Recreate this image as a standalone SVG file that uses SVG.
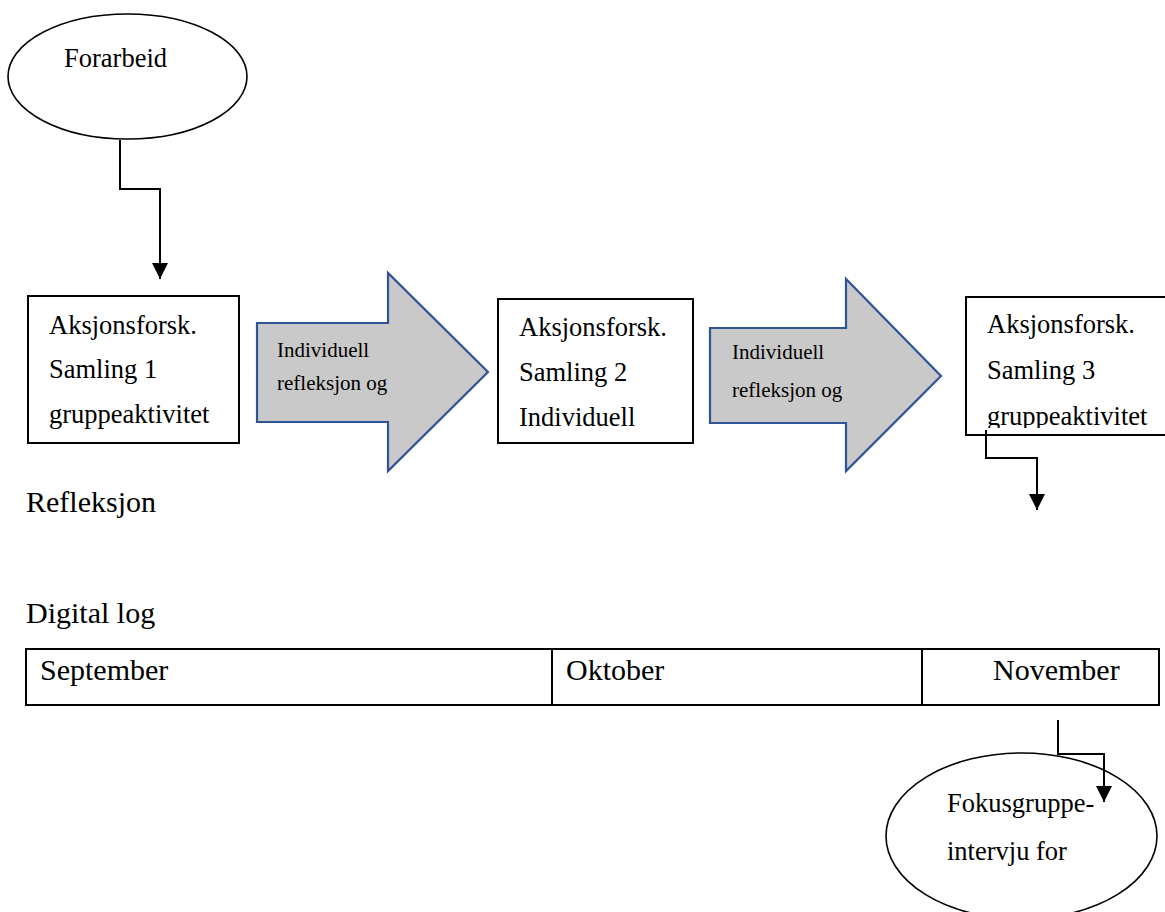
<svg xmlns="http://www.w3.org/2000/svg" width="1165" height="912" viewBox="0 0 1165 912">
<style>
  text { font-family: "Liberation Serif", "Times New Roman", serif; fill: #000; }
  .big { font-size: 30px; }
  .mid { font-size: 26.5px; }
  .small { font-size: 21px; }
  .box { fill: #fff; stroke: #000; stroke-width: 2; }
  .ell { fill: #fff; stroke: #000; stroke-width: 1.6; }
  .blk { fill: #c9c9c9; stroke: #2f5496; stroke-width: 2.2; stroke-linejoin: miter; }
  .conn { fill: none; stroke: #000; stroke-width: 2; }
</style>
<defs>
  <marker id="ah" markerUnits="userSpaceOnUse" markerWidth="16" markerHeight="16" viewBox="0 0 16 16" refX="16" refY="8" orient="auto">
    <path d="M0,0 L16,8 L0,16 Z" fill="#000"/>
  </marker>
  <clipPath id="clip3"><rect x="966" y="297" width="210" height="131"/></clipPath>
</defs>
<rect width="1165" height="912" fill="#fff"/>

<g id="forarbeid">
  <ellipse class="ell" cx="127.5" cy="76.5" rx="119.5" ry="62.5"/>
  <text class="mid" x="64" y="67">Forarbeid</text>
</g>

<g id="samling1">
  <rect class="box" x="28" y="296" width="211" height="147"/>
  <text class="mid" x="49" y="334">Aksjonsforsk.</text>
  <text class="mid" x="49" y="378">Samling 1</text>
  <text class="mid" x="49" y="423">gruppeaktivitet</text>
</g>

<g id="pil1">
  <polygon class="blk" points="257,323 388,323 388,273 488,372 388,471 388,422 257,422"/>
  <text class="small" x="277" y="357">Individuell</text>
  <text class="small" x="277" y="390">refleksjon og</text>
</g>

<g id="samling2">
  <rect class="box" x="498" y="299" width="195" height="144"/>
  <text class="mid" x="519" y="336">Aksjonsforsk.</text>
  <text class="mid" x="519" y="381">Samling 2</text>
  <text class="mid" x="519" y="426">Individuell</text>
</g>

<g id="pil2">
  <polygon class="blk" points="710,328 846,328 846,279 941,376 846,471 846,423 710,423"/>
  <text class="small" x="732" y="359">Individuell</text>
  <text class="small" x="732" y="397">refleksjon og</text>
</g>

<g id="samling3">
  <rect class="box" x="966" y="297" width="210" height="138"/>
  <g clip-path="url(#clip3)">
    <text class="mid" x="987" y="333">Aksjonsforsk.</text>
    <text class="mid" x="987" y="379">Samling 3</text>
    <text class="mid" x="987" y="425">gruppeaktivitet</text>
  </g>
</g>

<g id="refleksjon">
  <text class="big" x="26" y="512">Refleksjon</text>
</g>

<g id="digital-log">
  <text class="big" x="26" y="623">Digital log</text>
</g>

<g id="tidslinje">
  <rect class="box" x="26" y="649" width="1133" height="56"/>
  <line x1="552" y1="649" x2="552" y2="705" stroke="#000" stroke-width="2"/>
  <line x1="922" y1="649" x2="922" y2="705" stroke="#000" stroke-width="2"/>
  <text class="big" x="40" y="680">September</text>
  <text class="big" x="566" y="680">Oktober</text>
  <text class="big" x="993" y="680">November</text>
</g>

<g id="fokusgruppe">
  <ellipse class="ell" cx="1021.5" cy="836" rx="135.5" ry="83"/>
  <text class="mid" x="947" y="812">Fokusgruppe-</text>
  <text class="mid" x="947" y="860">intervju for</text>
</g>

<g id="connectors">
  <path class="conn" d="M120,140 V189 H160 V279" marker-end="url(#ah)"/>
  <path class="conn" d="M986,430 V458 H1037 V510" marker-end="url(#ah)"/>
  <path class="conn" d="M1058,720 V754 H1104 V802" marker-end="url(#ah)"/>
</g>
</svg>
